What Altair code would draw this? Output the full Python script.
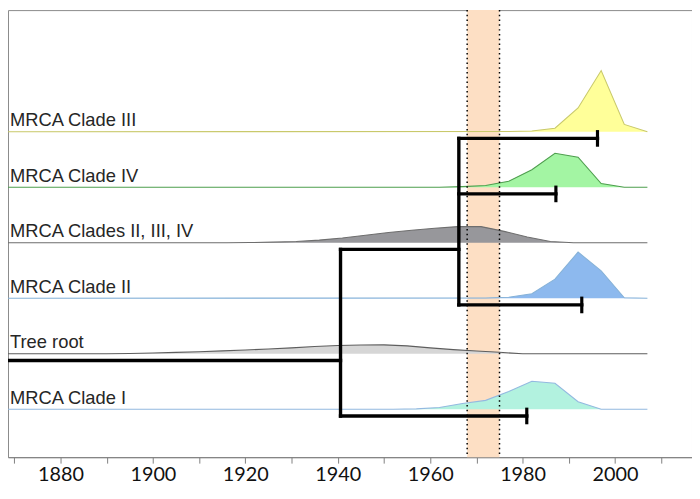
import altair as alt
import pandas as pd

# ---------------- data ----------------
clades = ["MRCA Clade III", "MRCA Clade IV", "MRCA Clades II, III, IV",
          "MRCA Clade II", "Tree root", "MRCA Clade I"]
levels = [5, 4, 3, 2, 1, 0]

years_c3 = [1868, 1977, 1982, 1987, 1992, 1997, 2002, 2007]
dens_c3 = [0, 0.2, 0.7, 3.5, 24, 61.7, 7.4, 0]

years_c4 = [1868, 1962, 1967, 1972, 1977, 1982, 1987, 1992, 1997, 2002, 2007]
dens_c4 = [0, 0, 0.6, 1.7, 6, 17.7, 34.3, 30.3, 3.7, 0, 0]

years_c234 = [1868, 1916, 1921, 1926, 1931, 1936, 1941, 1946, 1951, 1956,
              1961, 1966, 1971, 1976, 1981, 1986, 1991, 2007]
dens_c234 = [0, 0, 0.2, 0.6, 1.3, 2.7, 4.8, 7.5, 10.3, 12.6,
             14.6, 16.3, 16.3, 11.5, 5.8, 1.3, 0, 0]

years_c2 = [1868, 1972, 1977, 1982, 1987, 1992, 1997, 2002, 2007]
dens_c2 = [0, 0.3, 1, 4.6, 19.3, 46.6, 27.6, 0.5, 0]

years_root = [1868, 1885, 1890, 1895, 1900, 1905, 1910, 1915, 1920, 1925, 1930,
              1935, 1940, 1945, 1950, 1955, 1960, 1965, 1970, 1975, 1980, 2007]
dens_root = [0, 0, 0.1, 0.3, 0.8, 1.4, 2.1, 2.9, 3.8, 4.8, 6.0,
             7.3, 8.3, 8.8, 9.0, 8.0, 6.0, 4.2, 2.8, 1.5, 0, 0]

years_c1 = [1868, 1952, 1957, 1962, 1967, 1972, 1977, 1982, 1987, 1992, 1997, 2007]
dens_c1 = [0, 0, 0.4, 1.8, 5.8, 9, 18, 28.3, 26.3, 7.6, 0, 0]

band_start = [1968.0]
band_end = [1975.0]

tree_from = [1869.0, 1940.6, 1940.6, 1966.2, 1966.2, 1966.2]
tree_to = [1940.6, 1966.2, 1980.9, 1992.8, 1996.2, 1987.2]
tree_row = ["Tree root", "MRCA Clades II, III, IV", "MRCA Clade I",
            "MRCA Clade II", "MRCA Clade III", "MRCA Clade IV"]
tree_tip = [False, False, True, True, True, True]

node_year = [1940.6, 1966.2]
node_top = ["MRCA Clades II, III, IV", "MRCA Clade III"]
node_bottom = ["MRCA Clade I", "MRCA Clade II"]

tick_values = list(range(1870, 2011, 10))

# ---------------- styles ----------------
fills = ["#FFFF99", "#A3F5A3", "#97979B", "#8DB9EE", "#D6D6D6", "#B2F2DF"]
strokes = ["#C9C96B", "#4E9E4E", "#6E6E6E", "#86B2D8", "#5E5E5E", "#93B9E0"]
px_per_level = 56.0
branch_offset = 0.12
cap_half = 0.15

level_of = dict(zip(clades, levels))

rows = []
for name, ys, ds in [
    (clades[0], years_c3, dens_c3),
    (clades[1], years_c4, dens_c4),
    (clades[2], years_c234, dens_c234),
    (clades[3], years_c2, dens_c2),
    (clades[4], years_root, dens_root),
    (clades[5], years_c1, dens_c1),
]:
    for yv, dv in zip(ys, ds):
        rows.append({"clade": name, "year": yv, "dens": dv,
                     "base": level_of[name],
                     "top": level_of[name] + dv / px_per_level})
dens_df = pd.DataFrame(rows)

tree_df = pd.DataFrame({
    "x1": tree_from, "x2": tree_to,
    "y": [level_of[r] - branch_offset for r in tree_row],
    "tip": tree_tip,
})
tree_df["c1"] = tree_df["y"] + cap_half
tree_df["c2"] = tree_df["y"] - cap_half
caps_df = tree_df[tree_df["tip"]]

node_df = pd.DataFrame({
    "x": node_year,
    "y1": [level_of[r] - branch_offset for r in node_top],
    "y2": [level_of[r] - branch_offset for r in node_bottom],
})

label_df = pd.DataFrame({"clade": clades, "level": levels})
band_df = pd.DataFrame({"start": band_start, "end": band_end})
band_lines_df = pd.DataFrame({"x": band_start + band_end})

plot_h = 451
# rows keep their positions: level 5 at 122.7 px from top, 56 px per level
y_top = 122.7 / px_per_level + 5
y_bottom = y_top - plot_h / px_per_level

xscale = alt.Scale(domain=[1868.65, 2016.65], nice=False, zero=False)
yscale = alt.Scale(domain=[y_bottom, y_top], nice=False, zero=False)

xaxis = alt.Axis(values=tick_values, labelExpr="datum.value % 20 == 0 ? datum.label : ''",
                 format="d", title=None, grid=False, domainColor="#7f7f7f",
                 tickColor="#7f7f7f", tickSize=6, labelFont="Lato", labelFontSize=20,
                 labelColor="#111111", labelPadding=2)

band = alt.Chart(band_df).mark_rect(color="#FDDFC4").encode(
    x=alt.X("start:Q", scale=xscale, axis=xaxis),
    x2="end:Q",
)

areas = alt.Chart(dens_df).mark_area(interpolate="linear", opacity=1).encode(
    x=alt.X("year:Q", scale=xscale),
    y=alt.Y("top:Q", scale=yscale, axis=None),
    y2="base:Q",
    color=alt.Color("clade:N", scale=alt.Scale(domain=clades, range=fills), legend=None),
)

outlines = alt.Chart(dens_df).mark_line(interpolate="linear", strokeWidth=1.1).encode(
    x=alt.X("year:Q", scale=xscale),
    y=alt.Y("top:Q", scale=yscale, axis=None),
    stroke=alt.Stroke("clade:N", scale=alt.Scale(domain=clades, range=strokes), legend=None),
)

band_lines = alt.Chart(band_lines_df).mark_rule(
    color="black", strokeWidth=1.5, strokeDash=[1.5, 3.3]
).encode(x=alt.X("x:Q", scale=xscale))

branches = alt.Chart(tree_df).mark_rule(color="black", strokeWidth=3.4, strokeCap="square").encode(
    x=alt.X("x1:Q", scale=xscale), x2="x2:Q",
    y=alt.Y("y:Q", scale=yscale, axis=None),
)

verticals = alt.Chart(node_df).mark_rule(color="black", strokeWidth=3.4, strokeCap="square").encode(
    x=alt.X("x:Q", scale=xscale),
    y=alt.Y("y1:Q", scale=yscale, axis=None), y2="y2:Q",
)

caps = alt.Chart(caps_df).mark_rule(color="black", strokeWidth=3.2).encode(
    x=alt.X("x2:Q", scale=xscale),
    y=alt.Y("c1:Q", scale=yscale, axis=None), y2="c2:Q",
)

labels = alt.Chart(label_df).mark_text(
    align="left", baseline="alphabetic", dy=-5.5, font="Liberation Sans",
    fontSize=18.5, color="#262626"
).encode(
    x=alt.value(2),
    y=alt.Y("level:Q", scale=yscale, axis=None),
    text="clade:N",
)

chart = alt.layer(band, areas, outlines, band_lines, branches, verticals, caps, labels).properties(
    width=690, height=plot_h,
    autosize=alt.AutoSizeParams(type="none"),
    padding={"left": 0, "top": 0, "right": 0, "bottom": 32},
).configure_view(stroke="#8a8a8a", strokeWidth=1)

chart.save("out.html", embed_options={"renderer": "svg", "actions": False})
